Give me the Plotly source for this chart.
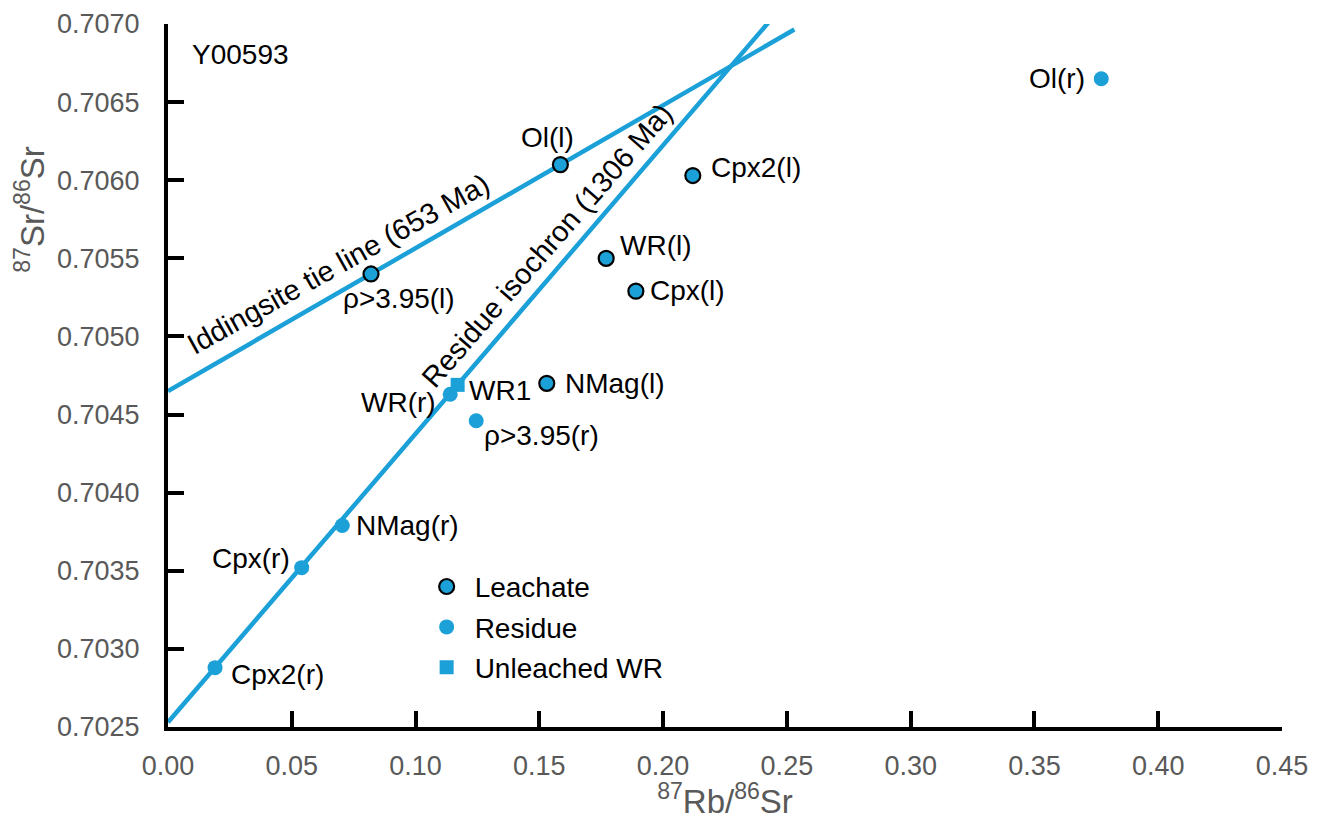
import plotly.graph_objects as go

# ---------------- data ----------------
leach_names = ["Ol(l)", "Cpx2(l)", "WR(l)", "Cpx(l)", "ρ>3.95(l)", "NMag(l)"]
leach_x = [0.1585, 0.212, 0.177, 0.189, 0.082, 0.153]
leach_y = [0.70610, 0.70603, 0.70550, 0.70529, 0.70540, 0.70470]

resid_names = ["Ol(r)", "WR(r)", "ρ>3.95(r)", "NMag(r)", "Cpx(r)", "Cpx2(r)"]
resid_x = [0.377, 0.114, 0.1245, 0.0704, 0.054, 0.019]
resid_y = [0.70665, 0.70463, 0.70446, 0.70379, 0.70352, 0.70288]

unl_names = ["WR1"]
unl_x = [0.117]
unl_y = [0.70469]

# regression lines: intercept, slope, x-extent
tie_intercept, tie_slope = 0.70465, 0.00915
tie_x = [0.0, 0.253]
iso_intercept, iso_slope = 0.70253, 0.01847
iso_x = [0.0, 0.245]

x_ticks = [0.00, 0.05, 0.10, 0.15, 0.20, 0.25, 0.30, 0.35, 0.40, 0.45]
y_ticks = [0.7025, 0.7030, 0.7035, 0.7040, 0.7045, 0.7050, 0.7055, 0.7060, 0.7065, 0.7070]

# ---------------- styles ----------------
BLUE = "#1ba0d8"
GREY = "#595959"
FONT = "Liberation Sans, Arial, sans-serif"
LFS = 28

# label placement (xshift, yshift, xanchor)
label_style = {
    "Ol(l)": (-13, 27, "center"),
    "Cpx2(l)": (16, 8, "left"),
    "WR(l)": (12, 13, "left"),
    "Cpx(l)": (12, 1, "left"),
    "ρ>3.95(l)": (28, -25, "center"),
    "NMag(l)": (16, 0, "left"),
    "Ol(r)": (-14, 0, "right"),
    "WR(r)": (-12, -8, "right"),
    "ρ>3.95(r)": (6, -15, "left"),
    "NMag(r)": (12, 0, "left"),
    "Cpx(r)": (-10, 9, "right"),
    "Cpx2(r)": (14, -7, "left"),
    "WR1": (9, -6, "left"),
}

fig = go.Figure()

tie_y = [tie_intercept + tie_slope * v for v in tie_x]
iso_y = [iso_intercept + iso_slope * v for v in iso_x]
fig.add_trace(go.Scatter(x=tie_x, y=tie_y, mode="lines",
                         line=dict(color=BLUE, width=4.5), showlegend=False, hoverinfo="skip"))
fig.add_trace(go.Scatter(x=iso_x, y=iso_y, mode="lines",
                         line=dict(color=BLUE, width=4.5), showlegend=False, hoverinfo="skip"))

fig.add_trace(go.Scatter(x=leach_x, y=leach_y, mode="markers", name="Leachate", legendgroup="a",
                         marker=dict(color=BLUE, size=15, line=dict(color="black", width=2.2))))
fig.add_trace(go.Scatter(x=resid_x, y=resid_y, mode="markers", name="Residue", legendgroup="b",
                         marker=dict(color=BLUE, size=15, line=dict(width=0))))
fig.add_trace(go.Scatter(x=unl_x, y=unl_y, mode="markers", name="Unleached WR", legendgroup="c",
                         marker=dict(color=BLUE, size=14, symbol="square", line=dict(width=0))))

annotations = []
for names, xs, ys in [(leach_names, leach_x, leach_y), (resid_names, resid_x, resid_y),
                      (unl_names, unl_x, unl_y)]:
    for n, xv, yv in zip(names, xs, ys):
        dx, dy, anc = label_style[n]
        annotations.append(dict(x=xv, y=yv, xref="x", yref="y", text=n, showarrow=False,
                                xanchor=anc, yanchor="middle", xshift=dx, yshift=dy,
                                font=dict(family=FONT, size=LFS, color="black")))

# line captions
tie_cx = 0.0696
iso_cx = 0.1549
annotations.append(dict(x=tie_cx, y=tie_intercept + tie_slope * tie_cx, xref="x", yref="y",
                        text="Iddingsite tie line (653 Ma)", showarrow=False, textangle=-29,
                        xshift=-2, yshift=28, font=dict(family=FONT, size=29, color="black")))
annotations.append(dict(x=iso_cx, y=iso_intercept + iso_slope * iso_cx, xref="x", yref="y",
                        text="Residue isochron (1306 Ma)", showarrow=False, textangle=-49,
                        xshift=-4, yshift=30, font=dict(family=FONT, size=29, color="black")))
annotations.append(dict(x=0.02, y=0.957, xref="paper", yref="paper", text="Y00593",
                        showarrow=False, xanchor="left", yanchor="middle",
                        font=dict(family=FONT, size=LFS, color="black")))
# y-axis title (placed above the axis centre as in the original)
annotations.append(dict(x=-0.124, y=0.737, xref="paper", yref="paper",
                        text="<sup>87</sup>Sr/<sup>86</sup>Sr", showarrow=False, textangle=-90,
                        xanchor="center", yanchor="middle",
                        font=dict(family=FONT, size=33, color=GREY)))

fig.update_layout(
    width=1322, height=820,
    margin=dict(l=168, r=40, t=24, b=93),
    plot_bgcolor="white", paper_bgcolor="white",
    font=dict(family=FONT, color=GREY),
    annotations=annotations,
    legend=dict(x=0.225, y=0.235, xanchor="left", yanchor="top",
                font=dict(family=FONT, size=LFS, color="black"),
                bgcolor="rgba(0,0,0,0)", itemwidth=46, tracegroupgap=1,
                traceorder="grouped"),
    xaxis=dict(range=[0, 0.45], tickvals=x_ticks, tickformat=".2f", automargin=False,
               showgrid=False, zeroline=False, showline=True, linecolor="black", linewidth=4,
               ticks="inside", ticklen=16, tickwidth=4, tickcolor="black",
               tickfont=dict(family=FONT, size=27, color=GREY), ticklabelstandoff=12,
               title=dict(text="<sup>87</sup>Rb/<sup>86</sup>Sr",
                          font=dict(family=FONT, size=33, color=GREY), standoff=4)),
    yaxis=dict(range=[0.7025, 0.7070], tickvals=y_ticks, tickformat=".4f", automargin=False,
               showgrid=False, zeroline=False, showline=True, linecolor="black", linewidth=4,
               ticks="inside", ticklen=16, tickwidth=4, tickcolor="black",
               tickfont=dict(family=FONT, size=27, color=GREY), ticklabelstandoff=19),
)

fig.write_html("out.html", config={"displayModeBar": False},
               post_script="document.body.style.margin='0';")
